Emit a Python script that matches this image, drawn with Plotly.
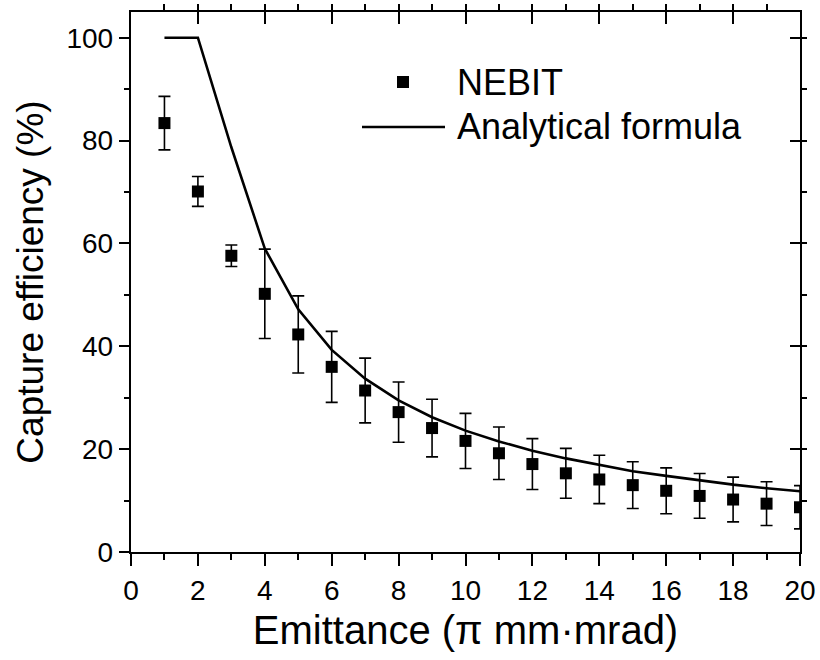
import plotly.graph_objects as go

# Emittance values (pi mm*mrad)
emittance = [1, 2, 3, 4, 5, 6, 7, 8, 9, 10, 11, 12, 13, 14, 15, 16, 17, 18, 19, 20]

# NEBIT simulated capture efficiency (%) and its error bars
nebit_eff = [83.4, 70.1, 57.6, 50.2, 42.3, 36.0, 31.4, 27.2, 24.1, 21.6,
             19.2, 17.1, 15.3, 14.1, 13.0, 11.9, 10.9, 10.2, 9.4, 8.7]
nebit_err = [5.2, 2.9, 2.1, 8.7, 7.5, 6.9, 6.3, 5.85, 5.6, 5.35,
             5.1, 4.95, 4.85, 4.7, 4.55, 4.45, 4.35, 4.35, 4.25, 4.2]

# Capture efficiency from the analytical formula (%)
formula_eff = [100, 100, 78.7, 59.0, 47.2, 39.3, 33.7, 29.5, 26.2, 23.6,
               21.5, 19.7, 18.2, 16.9, 15.7, 14.8, 13.9, 13.1, 12.4, 11.8]

FONT = "Liberation Sans, Arial, Helvetica, sans-serif"
W, H = 820, 660
ML, MR, MT, MB = 131, 20, 12, 108

fig = go.Figure()

fig.add_trace(go.Scatter(
    x=emittance, y=formula_eff, mode="lines",
    line=dict(color="black", width=2.6),
    name="Analytical formula", showlegend=False,
))
fig.add_trace(go.Scatter(
    x=emittance, y=nebit_eff, mode="markers",
    marker=dict(symbol="square", size=12, color="black"),
    error_y=dict(type="data", array=nebit_err, color="black",
                 thickness=1.6, width=6),
    name="NEBIT", showlegend=False,
))
# invisible trace that brings up the mirrored top/right axes
fig.add_trace(go.Scatter(
    x=[0], y=[0], xaxis="x2", yaxis="y2", mode="markers",
    marker=dict(opacity=0), hoverinfo="skip", showlegend=False,
))

common_x = dict(range=[0, 20], showgrid=False, zeroline=False, automargin=False,
                showline=True, linecolor="black", linewidth=2.4,
                tickcolor="black", tickwidth=2, ticklen=12, dtick=2, tick0=0,
                minor=dict(dtick=1, ticklen=6, tickwidth=2, tickcolor="black"))
common_y = dict(range=[0, 105], showgrid=False, zeroline=False, automargin=False,
                showline=True, linecolor="black", linewidth=2.4,
                tickcolor="black", tickwidth=2, ticklen=10, dtick=20, tick0=0,
                minor=dict(dtick=10, ticklen=5, tickwidth=2, tickcolor="black"))

fig.update_layout(
    width=W, height=H,
    margin=dict(l=ML, r=MR, t=MT, b=MB),
    paper_bgcolor="white", plot_bgcolor="white",
    font=dict(family=FONT, color="black"),
    xaxis=dict(**common_x, ticks="outside",
               tickfont=dict(size=28, family=FONT),
               title=dict(text="Emittance (\u03c0 mm\u00b7mrad)",
                          font=dict(size=40, family=FONT), standoff=11)),
    yaxis=dict(**common_y, ticks="outside",
               tickfont=dict(size=28, family=FONT),
               title=dict(text="Capture efficiency (%)",
                          font=dict(size=37, family=FONT), standoff=12)),
    xaxis2=dict(**common_x, ticks="inside", overlaying="x", side="top",
                showticklabels=False, anchor="y2"),
    yaxis2=dict(**common_y, ticks="inside", overlaying="y", side="right",
                showticklabels=False, anchor="x2"),
)

# Legend drawn in pixel positions inside the plot frame
pw, ph = W - ML - MR, H - MT - MB


def px(x):
    return (x - ML) / pw


def py(y):
    return (H - MB - y) / ph


fig.add_shape(type="rect", xref="paper", yref="paper",
              xsizemode="pixel", ysizemode="pixel",
              xanchor=px(403), yanchor=py(82),
              x0=-6, x1=6, y0=-6, y1=6,
              fillcolor="black", line=dict(width=0))
fig.add_shape(type="line", xref="paper", yref="paper",
              x0=px(362), x1=px(445), y0=py(127), y1=py(127),
              line=dict(color="black", width=2.6))
fig.add_annotation(text="NEBIT", xref="paper", yref="paper",
                   x=px(455), y=py(82), xanchor="left", yanchor="middle",
                   showarrow=False, font=dict(size=36, family=FONT))
fig.add_annotation(text="Analytical formula", xref="paper", yref="paper",
                   x=px(455), y=py(127), xanchor="left", yanchor="middle",
                   showarrow=False, font=dict(size=36, family=FONT))

fig.write_html("out.html")
